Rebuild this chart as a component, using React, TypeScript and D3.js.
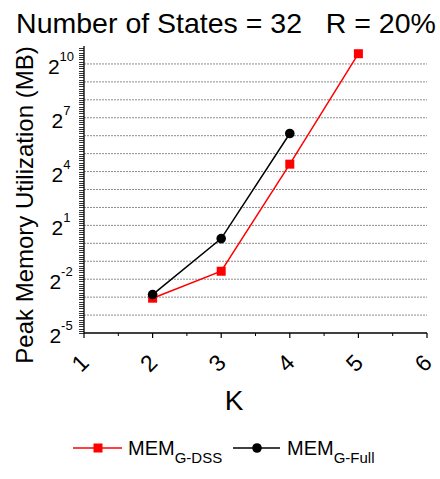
import React, { useRef, useEffect } from "react"
import * as d3 from "d3"

// K values and peak memory (MB) (log2 axis)
const kDss = [2, 3, 4, 5]
const memDss = [0.12, 0.34, 21.3, 1520]
const kFull = [2, 3, 4]
const memFull = [0.138, 1.2, 69.6]

const xTicks = [1, 2, 3, 4, 5, 6]
const yLabelExps = [-5, -2, 1, 4, 7, 10]
const gridExps = [-4, -3, -2, -1, 0, 1, 2, 3, 4, 5, 6, 7, 8, 9, 10]

const App = () => {
  const svgRef = useRef<SVGSVGElement>(null)

  useEffect(() => {
    const svg = d3.select(svgRef.current)
    svg.selectAll("*").remove()

    const font = "'Liberation Sans', Arial, sans-serif"
    const x = d3.scaleLinear().domain([1, 6]).range([84, 427])
    const y = d3.scaleLog().base(2).domain([Math.pow(2, -5), Math.pow(2, 11)]).range([333, 46])

    // title
    svg
      .append("text")
      .attr("x", 226)
      .attr("y", 33)
      .attr("text-anchor", "middle")
      .style("font-family", font)
      .style("font-size", "28.5px")
      .style("white-space", "pre")
      .text("Number of States = 32   R = 20%")

    // grid
    svg
      .append("g")
      .selectAll("line")
      .data(gridExps)
      .enter()
      .append("line")
      .attr("x1", x(1))
      .attr("x2", x(6))
      .attr("y1", (d) => y(Math.pow(2, d)))
      .attr("y2", (d) => y(Math.pow(2, d)))
      .attr("stroke", "#8c8c8c")
      .attr("stroke-width", 1)
      .attr("stroke-dasharray", "2,1")

    // y axis, minor ticks in exponent steps
    const minor: number[] = []
    for (let e = -5; e < 11; e += 0.125) minor.push(e)
    const ya = svg.append("g")
    ya.selectAll("line.minor")
      .data(minor)
      .enter()
      .append("line")
      .attr("class", "minor")
      .attr("x1", 79)
      .attr("x2", 84)
      .attr("y1", (d) => Math.round(y(Math.pow(2, d))) + 0.5)
      .attr("y2", (d) => Math.round(y(Math.pow(2, d))) + 0.5)
      .attr("stroke", "#000")
      .attr("stroke-width", 0.8)
    ya.append("line")
      .attr("x1", 84)
      .attr("x2", 84)
      .attr("y1", y(Math.pow(2, 11)))
      .attr("y2", y(Math.pow(2, -5)))
      .attr("stroke", "#000")
      .attr("stroke-width", 1.3)

    const yl = ya
      .selectAll("text")
      .data(yLabelExps)
      .enter()
      .append("text")
      .attr("x", 61)
      .attr("y", (d) => y(Math.pow(2, d)) + 10)
      .attr("text-anchor", "middle")
      .style("font-family", font)
      .style("font-size", "21px")
    yl.append("tspan").text("2")
    yl.append("tspan")
      .attr("dy", -13)
      .style("font-size", "13px")
      .text((d) => String(d))

    // x axis
    const xa = svg.append("g")
    xa.append("line")
      .attr("x1", x(1))
      .attr("x2", x(6))
      .attr("y1", 333)
      .attr("y2", 333)
      .attr("stroke", "#000")
      .attr("stroke-width", 1.3)
    xa.selectAll("line.major")
      .data(xTicks)
      .enter()
      .append("line")
      .attr("class", "major")
      .attr("x1", (d) => x(d))
      .attr("x2", (d) => x(d))
      .attr("y1", 333)
      .attr("y2", 338)
      .attr("stroke", "#000")
      .attr("stroke-width", 1.2)
    xa.selectAll("line.minor")
      .data(xTicks.slice(0, -1).map((d) => d + 0.5))
      .enter()
      .append("line")
      .attr("class", "minor")
      .attr("x1", (d) => x(d))
      .attr("x2", (d) => x(d))
      .attr("y1", 333)
      .attr("y2", 336)
      .attr("stroke", "#000")
      .attr("stroke-width", 1)
    xa.selectAll("text")
      .data(xTicks)
      .enter()
      .append("text")
      .attr("transform", (d) => `translate(${x(d) - 4},363) rotate(-45)`)
      .attr("text-anchor", "middle")
      .attr("dominant-baseline", "central")
      .style("font-family", font)
      .style("font-size", "23px")
      .text((d) => d)

    // axis titles
    svg
      .append("text")
      .attr("x", 234)
      .attr("y", 410)
      .attr("text-anchor", "middle")
      .style("font-family", font)
      .style("font-size", "28px")
      .text("K")
    svg
      .append("text")
      .attr("transform", "translate(33,205) rotate(-90)")
      .attr("text-anchor", "middle")
      .style("font-family", font)
      .style("font-size", "24px")
      .text("Peak Memory Utilization (MB)")

    // series
    const line = d3
      .line<[number, number]>()
      .x((d) => x(d[0]))
      .y((d) => y(d[1]))
    const dss: [number, number][] = kDss.map((k, i) => [k, memDss[i]])
    const full: [number, number][] = kFull.map((k, i) => [k, memFull[i]])

    svg.append("path").attr("d", line(dss)).attr("fill", "none").attr("stroke", "#ff0000").attr("stroke-width", 1.5)
    svg.append("path").attr("d", line(full)).attr("fill", "none").attr("stroke", "#000").attr("stroke-width", 1.5)

    svg
      .selectAll("rect.dss")
      .data(dss)
      .enter()
      .append("rect")
      .attr("class", "dss")
      .attr("x", (d) => x(d[0]) - 4.5)
      .attr("y", (d) => y(d[1]) - 4.5)
      .attr("width", 9)
      .attr("height", 9)
      .attr("fill", "#ff0000")
    svg
      .selectAll("circle.full")
      .data(full)
      .enter()
      .append("circle")
      .attr("class", "full")
      .attr("cx", (d) => x(d[0]))
      .attr("cy", (d) => y(d[1]))
      .attr("r", 4.8)
      .attr("fill", "#000")

    // legend
    const lg = svg.append("g")
    lg.append("line").attr("x1", 73).attr("x2", 122).attr("y1", 448).attr("y2", 448).attr("stroke", "#ff0000").attr("stroke-width", 1.5)
    lg.append("rect").attr("x", 93.5).attr("y", 443.5).attr("width", 9).attr("height", 9).attr("fill", "#ff0000")
    lg.append("line").attr("x1", 233).attr("x2", 280).attr("y1", 448).attr("y2", 448).attr("stroke", "#000").attr("stroke-width", 1.5)
    lg.append("circle").attr("cx", 257).attr("cy", 448).attr("r", 4.8).attr("fill", "#000")

    const l1 = lg.append("text").attr("x", 128).attr("y", 455).style("font-family", font).style("font-size", "20px")
    l1.append("tspan").text("MEM")
    l1.append("tspan").attr("dy", 8).style("font-size", "15px").text("G-DSS")
    const l2 = lg.append("text").attr("x", 287).attr("y", 455).style("font-family", font).style("font-size", "20px")
    l2.append("tspan").text("MEM")
    l2.append("tspan").attr("dy", 8).style("font-size", "15px").text("G-Full")
  }, [])

  return (
    <svg ref={svgRef} width={440} height={479} style={{ position: "absolute", left: 0, top: 0, background: "#fff" }} />
  )
}

export default App
